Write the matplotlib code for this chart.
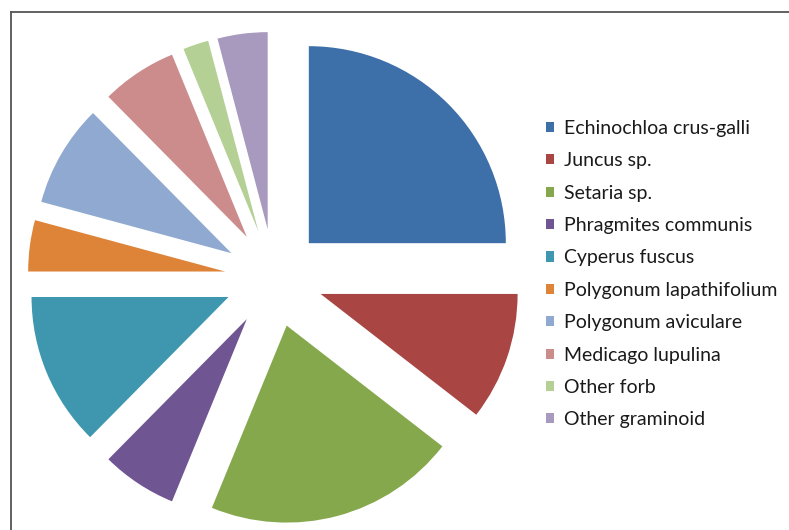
#!/usr/bin/env python3
"""Exploded pie chart of plant species cover, with legend on the right."""

import matplotlib
matplotlib.use("Agg")
import matplotlib.pyplot as plt
from matplotlib.lines import Line2D

species = [
    "Echinochloa crus-galli",
    "Juncus sp.",
    "Setaria sp.",
    "Phragmites communis",
    "Cyperus fuscus",
    "Polygonum lapathifolium",
    "Polygonum aviculare",
    "Medicago lupulina",
    "Other forb",
    "Other graminoid",
]
shares = [25.0, 10.5, 20.7, 6.2, 12.6, 4.2, 8.4, 6.2, 2.1, 4.1]
colors = [
    "#3d6fa8", "#a94543", "#86a84c", "#6f5592", "#3e97ae",
    "#dd8438", "#8fa9d0", "#cd8c8c", "#b4d095", "#a899bf",
]

W, H = 789, 530
fig = plt.figure(figsize=(W / 100, H / 100), dpi=100)
fig.patch.set_facecolor("white")
ax = fig.add_axes([0, 0, 1, 1])

# pie centre and radius in pixels
cx, cy, r = 274, 278, 197
wedges, _ = ax.pie(
    shares,
    colors=colors,
    startangle=90,
    counterclock=False,
    explode=[0.25] * len(shares),
    radius=1.0,
    wedgeprops=dict(linewidth=0),
)
ax.set_aspect("auto")
ax.set_xlim(-cx / r, (W - cx) / r)
ax.set_ylim(-(H - cy) / r, cy / r)
ax.axis("off")

# frame lines (only top and left show in the crop)
fig.add_artist(Line2D([10.5 / W, 1], [1 - 12 / H, 1 - 12 / H], color="#555555", lw=1.3))
fig.add_artist(Line2D([10.5 / W, 10.5 / W], [0, 1 - 12 / H], color="#555555", lw=1.3))

leg = fig.legend(
    wedges,
    species,
    loc="upper left",
    bbox_to_anchor=(546 / W, 1 - 120 / H),
    frameon=False,
    prop={"family": "Lato", "size": 14},
    handlelength=0.42,
    handleheight=0.42,
    handletextpad=0.5,
    labelspacing=0.79,
    borderaxespad=0,
    borderpad=0,
)
for t in leg.get_texts():
    t.set_color("#1a1a1a")

fig.savefig("out.png", dpi=100, facecolor="white")
